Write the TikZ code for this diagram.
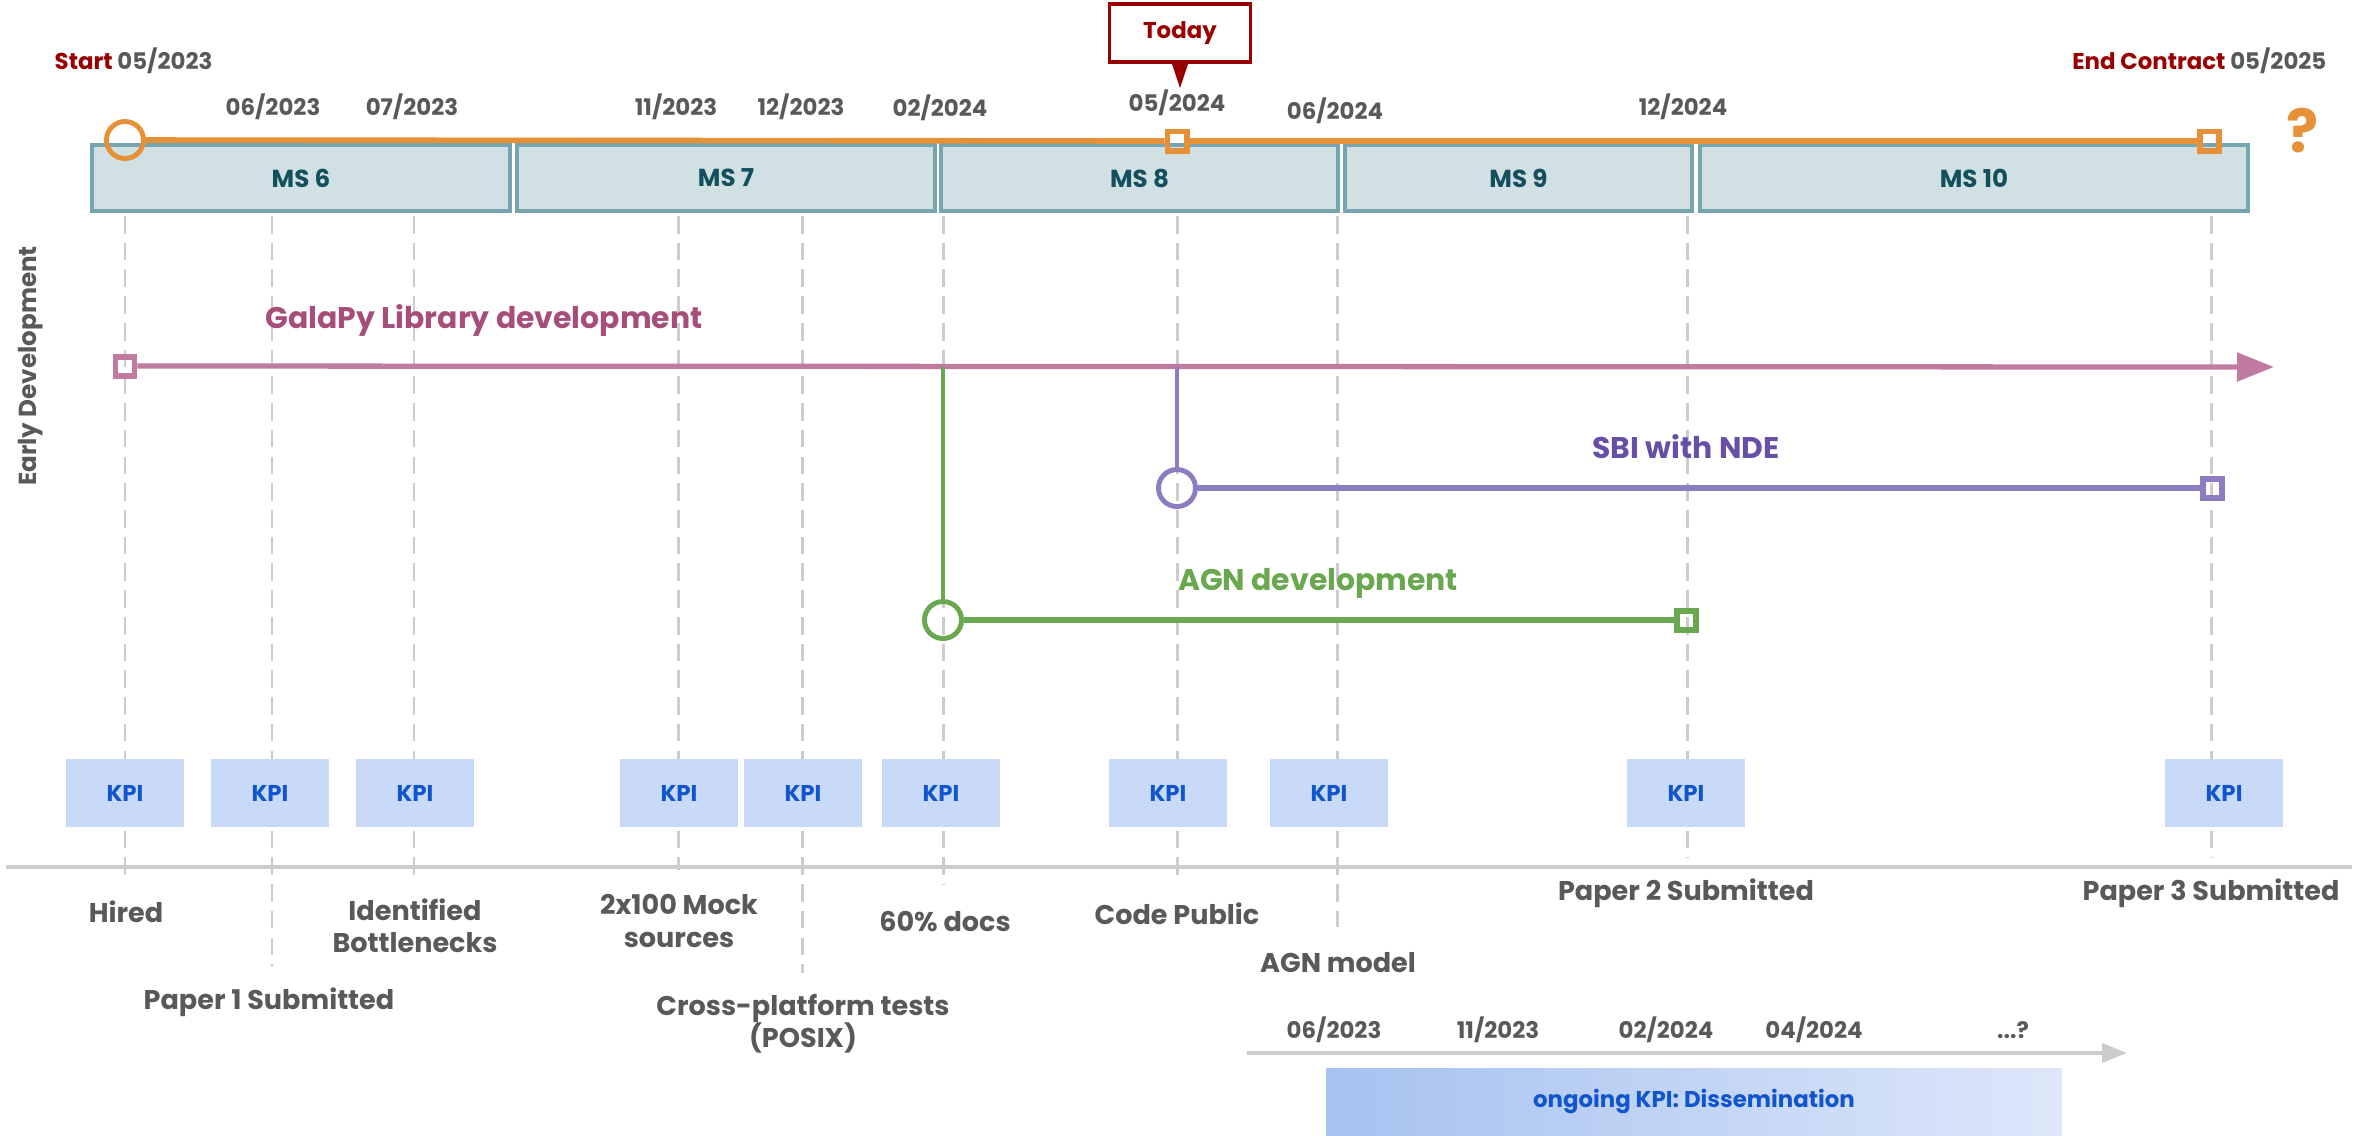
\documentclass[tikz,border=0pt]{standalone}
\usepackage{fontspec}
\setmainfont{Poppins}
\usepackage{tikz}
\usetikzlibrary{
  arrows.meta,
  positioning,
  calc
}
\usepackage{xcolor}
\definecolor{corange}{HTML}{E69138}
\definecolor{cred}{HTML}{990000}
\definecolor{cgrey}{HTML}{595959}
\definecolor{cguide}{HTML}{CCCCCC}
\definecolor{lms}{HTML}{D0E0E3}
\definecolor{cms}{HTML}{76A5AF}
\definecolor{tms}{HTML}{134F5C}
\definecolor{cpink}{HTML}{C27BA0}
\definecolor{tpink}{HTML}{A64D79}
\definecolor{cpurple}{HTML}{8E7CC3}
\definecolor{tpurple}{HTML}{674EA7}
\definecolor{cgreen}{HTML}{6AA84F}
\definecolor{lkpi}{HTML}{C9DAF8}
\definecolor{ckpi}{HTML}{1155CC}
\definecolor{dissA}{HTML}{A6C2F0}
\definecolor{dissB}{HTML}{DEE7F9}
\tikzset{
  msbox/.style={
    rectangle, fill=lms, draw=cms, line width=1.1pt,
    minimum height=0.66cm, inner sep=0pt,
    font=\fontsize{7}{8}\selectfont\bfseries, text=tms
  },
  kpi/.style={
    rectangle, fill=lkpi,
    minimum width=1.18cm, minimum height=0.68cm, inner sep=0pt,
    font=\fontsize{6.5}{8}\selectfont\bfseries, text=ckpi
  },
  date/.style={
    font=\fontsize{6.5}{8}\selectfont\bfseries, text=cgrey, inner sep=0pt
  },
  mile/.style={
    font=\fontsize{7.7}{9.2}\selectfont\bfseries, text=cgrey,
    align=center, inner sep=0pt
  },
  track/.style={
    font=\fontsize{8.5}{10}\selectfont\bfseries, inner sep=0pt
  },
  startpt/.style={
    circle, draw=#1, line width=1.4pt,
    minimum size=0.37cm, inner sep=0pt
  },
  endpt/.style={
    rectangle, draw=#1, line width=1.7pt,
    minimum size=0.19cm, inner sep=0pt
  },
  todaybox/.style={
    rectangle, draw=cred, fill=white, line width=1.1pt,
    minimum width=1.41cm, minimum height=0.58cm,
    font=\fontsize{6.5}{8}\selectfont\bfseries, text=cred
  },
  guide/.style={draw=cguide, line width=0.85pt, dash pattern=on 5pt off 2.6pt},
  axis/.style={draw=cguide, line width=1.1pt},
  trk/.style={line width=1.5pt, color=#1},
  trk/.default=black
}

\begin{document}
\begin{tikzpicture}[x=0.01cm, y=-0.01cm]
  \useasboundingbox (0,0) rectangle (2369,1135);

    %% ---- guide lines ----------------------------------------------
    \foreach \gx/\gend in {125/875, 272/967, 414/875, 678/870, 802/973,
                           943/885, 1177/880, 1337/927, 1687/858, 2211/858}
      \draw[guide] (\gx,216) -- (\gx,\gend);

    %% ---- milestones ------------------------------------------------
    \node[msbox, minimum width=4.18cm] (ms6)  at (301,178)    {MS 6};
    \node[msbox, minimum width=4.18cm] (ms7)  at (726,178)    {MS 7};
    \node[msbox, minimum width=3.97cm] (ms8)  at (1139.5,178) {MS 8};
    \node[msbox, minimum width=3.47cm] (ms9)  at (1518.5,178) {MS 9};
    \node[msbox, minimum width=5.48cm] (ms10) at (1974,178)   {MS 10};

    %% ---- contract line ---------------------------------------------
    \node[startpt=corange] (tstart) at (125,140) {};
    \node[endpt=corange]   (ttoday) at (1177,141) {};
    \node[endpt=corange]   (tend)   at (2209,141) {};
    \draw[trk=corange, line width=1.6pt] (tstart) -- (ttoday);
    \draw[trk=corange, line width=1.6pt] (ttoday) -- (tend);

    \node[date, anchor=west] (lstart) at (54,61)
      {\textcolor{cred}{Start} 05/2023};
    \node[date, anchor=east] (lend) at (2327,61)
      {\textcolor{cred}{End Contract} 05/2025};
    \node[font=\fontsize{17}{18}\selectfont\bfseries, text=corange]
      (qmark) at (2303,131) {?};

    \node[todaybox] (today) at (1180,33) {Today};
    \fill[cred] ([xshift=-0.08cm]today.south) -- ([xshift=0.08cm]today.south)
      -- ([yshift=-0.24cm]today.south) -- cycle;

    \node[date] (d1)  at (273,107)  {06/2023};
    \node[date] (d2)  at (412,107)  {07/2023};
    \node[date] (d3)  at (676,107)  {11/2023};
    \node[date] (d4)  at (801,107)  {12/2023};
    \node[date] (d5)  at (940,108)  {02/2024};
    \node[date] (d6)  at (1177,103) {05/2024};
    \node[date] (d7)  at (1335,111) {06/2024};
    \node[date] (d8)  at (1683,107) {12/2024};

    %% ---- GalaPy track ----------------------------------------------
    \node[font=\fontsize{7}{8}\selectfont\bfseries, text=cgrey, rotate=90,
          inner sep=0pt] (early) at (31,366) {Early Development};

    \node[endpt=cpink] (gstart) at (125,366) {};
    \coordinate (gend) at (2274,367);
    \draw[trk=cpink, -{Triangle[length=0.37cm, width=0.28cm]}] (gstart) -- (gend);
    \node[track, text=tpink] (glbl) at (484,320) {GalaPy Library development};

    %% ---- SBI track -------------------------------------------------
    \coordinate (sfork) at (1177,367);
    \node[startpt=cpurple] (sstart) at (1177,488) {};
    \node[endpt=cpurple]   (send)   at (2212,488) {};
    \draw[trk=cpurple, line width=0.9pt] (sfork) -- (sstart);
    \draw[trk=cpurple] (sstart) -- (send);
    \node[track, text=tpurple] (slbl) at (1686,447) {SBI with NDE};

    %% ---- AGN track -------------------------------------------------
    \coordinate (afork) at (943,367);
    \node[startpt=cgreen] (astart) at (943,620) {};
    \node[endpt=cgreen]   (aend)   at (1686,620) {};
    \draw[trk=cgreen, line width=0.9pt] (afork) -- (astart);
    \draw[trk=cgreen, line width=1.8pt] (astart) -- (aend);
    \node[track, text=cgreen] (albl) at (1318,583) {AGN development};

    %% ---- KPIs and axis ---------------------------------------------
    \foreach \kx [count=\i] in {125,270,415,679,803,941,1168,1329,1686,2224}
      \node[kpi] (kpi\i) at (\kx,793) {KPI};

    \coordinate (axl) at (6,867);
    \coordinate (axr) at (2352,867);
    \draw[axis] (axl) -- (axr);

    \node[mile] (m1)  at (126,912)  {Hired};
    \node[mile] (m2)  at (269,1002) {Paper 1 Submitted};
    \node[mile] (m3)  at (415,926)  {Identified\\Bottlenecks};
    \node[mile] (m4)  at (679,921)  {2x100 Mock\\sources};
    \node[mile] (m5)  at (803,1024) {Cross-platform tests\\(POSIX)};
    \node[mile] (m6)  at (945,922)  {60\% docs};
    \node[mile] (m7)  at (1177,914) {Code Public};
    \node[mile] (m8)  at (1338,963) {AGN model};
    \node[mile] (m9)  at (1686,893) {Paper 2 Submitted};
    \node[mile] (m10) at (2211,893) {Paper 3 Submitted};

    %% ---- dissemination ---------------------------------------------
    \coordinate (dl) at (1247,1053);
    \coordinate (dr) at (2127,1053);
    \draw[axis, -{Triangle[length=0.25cm, width=0.19cm]}] (dl) -- (dr);

    \node[date] (e1) at (1334,1030) {06/2023};
    \node[date] (e2) at (1498,1030) {11/2023};
    \node[date] (e3) at (1666,1030) {02/2024};
    \node[date] (e4) at (1814,1030) {04/2024};
    \node[date] (e5) at (2013,1030) {...?};

    \node[rectangle, left color=dissA, right color=dissB,
          minimum width=7.35cm, minimum height=0.67cm, inner sep=0pt,
          font=\fontsize{6.5}{8}\selectfont\bfseries, text=ckpi]
      (diss) at (1694,1101.5) {ongoing KPI: Dissemination};

  \end{tikzpicture}
\end{document}
